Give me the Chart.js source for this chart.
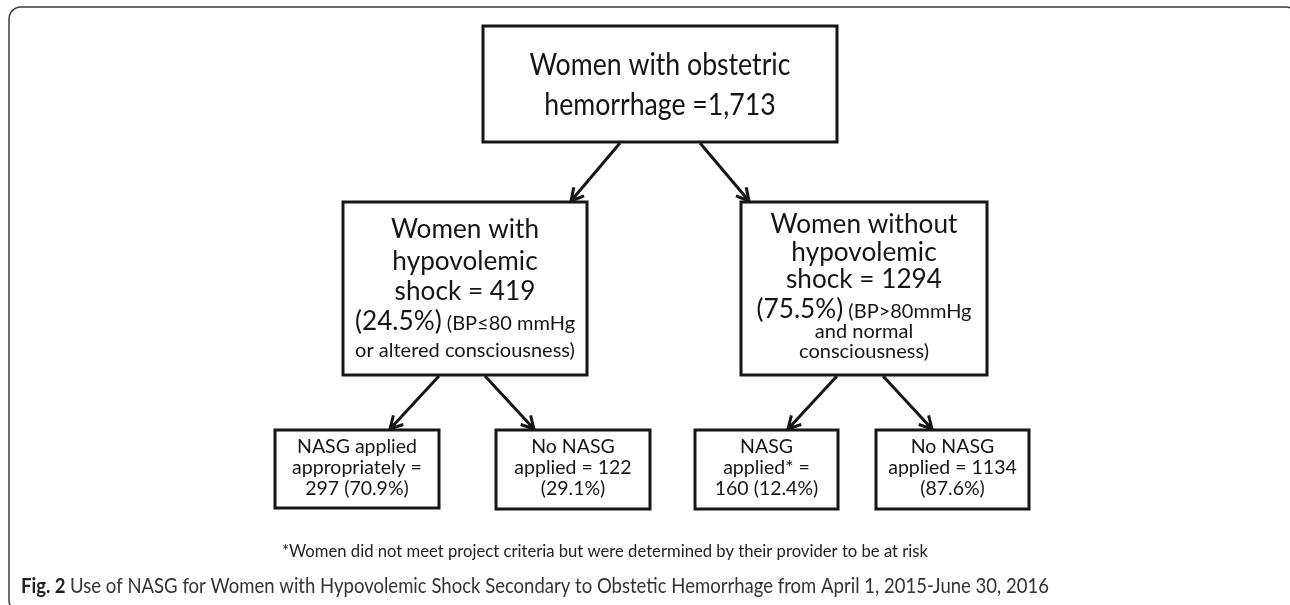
<!DOCTYPE html>
<html>
<head>
<meta charset="utf-8">
<script src="https://cdn.jsdelivr.net/npm/chart.js@4.4.1/dist/chart.umd.min.js"></script>
<style>
  html, body { margin: 0; padding: 0; background: #fff; }
  canvas { display: block; }
</style>
</head>
<body>
<canvas id="flow" width="1290" height="605"></canvas>
<script>
// flow data: counts and shares
const nodeCounts = [1713, 419, 1294, 297, 122, 160, 1134];
const nodePercents = [null, 24.5, 75.5, 70.9, 29.1, 12.4, 87.6];
const nodeParents = [null, 0, 0, 1, 1, 2, 2];
const footnote = '*Women did not meet project criteria but were determined by their provider to be at risk';
const captionLabel = 'Fig. 2';
const captionText = 'Use of NASG for Women with Hypovolemic Shock Secondary to Obstetic Hemorrhage from April 1, 2015-June 30, 2016';

const c = nodeCounts, p = nodePercents;

// text of every box, line by line, [text, size] segments
const nodeLines = [
    [[['Women with obstetric', 'xl']], [['hemorrhage =' + c[0].toLocaleString('en-US'), 'xl']]],
    [[['Women with', 'lg']], [['hypovolemic', 'lg']], [['shock = ' + c[1], 'lg']],
     [['(' + p[1] + '%)', 'lg'], [' (BP\u226480 mmHg', 'sm']], [['or altered consciousness)', 'sm']]],
    [[['Women without', 'lg']], [['hypovolemic', 'lg']], [['shock = ' + c[2], 'lg']],
     [['(' + p[2] + '%)', 'lg'], [' (BP>80mmHg', 'sm']], [['and normal', 'sm']], [['consciousness)', 'sm']]],
    [[['NASG applied', 'md']], [['appropriately =', 'md']], [[c[3] + ' (' + p[3] + '%)', 'md']]],
    [[['No NASG', 'md']], [['applied = ' + c[4], 'md']], [['(' + p[4] + '%)', 'md']]],
    [[['NASG', 'md']], [['applied* =', 'md']], [[c[5] + ' (' + p[5] + '%)', 'md']]],
    [[['No NASG', 'md']], [['applied = ' + c[6], 'md']], [['(' + p[6] + '%)', 'md']]]
];

// layout (scale units): box [left, right, top, bottom], text baselines, arrow start offsets
const boxLayout = [
    [483, 837, 26, 142],
    [343, 587, 202, 375],
    [741, 987, 202, 375],
    [275, 439, 430, 508],
    [496, 650, 430, 509],
    [695, 838, 430, 509],
    [876, 1029, 430, 509]
];
const lineBaselines = [
    [75, 115],
    [238, 270, 300, 330, 357],
    [233, 261, 288, 318, 338, 358],
    [453, 474, 495],
    [453, 474, 495],
    [453, 474, 495],
    [453, 474, 495]
];
const arrowOffsets = [null, -40, 40, -26, 20, -27, 19];

const fontSizes = { xl: 31, lg: 27, sm: 20, md: 19.5 };
const fontStretch = { xl: 0.86, lg: 0.97, sm: 1, md: 1 };
const FONT = 'Lato, "Open Sans", sans-serif';

function drawArrow(ctx, x0, y0, x1, y1) {
    const ang = Math.atan2(y1 - y0, x1 - x0);
    const head = 14;
    ctx.beginPath();
    ctx.moveTo(x0, y0);
    ctx.lineTo(x1, y1);
    ctx.moveTo(x1 - head * Math.cos(ang - 0.5), y1 - head * Math.sin(ang - 0.5));
    ctx.lineTo(x1, y1);
    ctx.lineTo(x1 - head * Math.cos(ang + 0.5), y1 - head * Math.sin(ang + 0.5));
    ctx.stroke();
}

const flowPlugin = {
    id: 'flow',
    afterDraw(chart) {
        const ctx = chart.ctx;
        const sx = chart.scales.x, sy = chart.scales.y;
        const X = v => sx.getPixelForValue(v);
        const Y = v => sy.getPixelForValue(v);

        ctx.save();

        // outer frame, clipped at right and bottom like the source page
        ctx.strokeStyle = '#3a3a3a';
        ctx.lineWidth = 1.5;
        ctx.beginPath();
        ctx.roundRect(X(9), Y(7), X(1298) - X(9), Y(612) - Y(7), 12);
        ctx.stroke();

        // boxes
        ctx.strokeStyle = '#161616';
        ctx.lineWidth = 3;
        boxLayout.forEach(b => {
            ctx.strokeRect(X(b[0]), Y(b[2]), X(b[1]) - X(b[0]), Y(b[3]) - Y(b[2]));
        });

        // arrows
        nodeParents.forEach((par, i) => {
            if (par === null) return;
            const pb = boxLayout[par], cb = boxLayout[i];
            const xs = (pb[0] + pb[1]) / 2 + arrowOffsets[i];
            const side = arrowOffsets[i] < 0 ? -1 : 1;
            drawArrow(ctx, X(xs), Y(pb[3] + 1), X(xs + side * 49), Y(cb[2] - 1));
        });

        // box text
        ctx.fillStyle = '#151515';
        ctx.textBaseline = 'alphabetic';
        ctx.textAlign = 'left';
        nodeLines.forEach((lines, i) => {
            const b = boxLayout[i];
            const cx = X((b[0] + b[1]) / 2);
            lines.forEach((segs, j) => {
                let total = 0;
                const widths = segs.map(s => {
                    ctx.font = fontSizes[s[1]] + 'px ' + FONT;
                    const w = ctx.measureText(s[0]).width * fontStretch[s[1]];
                    total += w;
                    return w;
                });
                let x = cx - total / 2;
                const y = Y(lineBaselines[i][j]);
                segs.forEach((s, k) => {
                    ctx.save();
                    ctx.font = fontSizes[s[1]] + 'px ' + FONT;
                    ctx.translate(x, y);
                    ctx.scale(fontStretch[s[1]], 1);
                    ctx.fillText(s[0], 0, 0);
                    ctx.restore();
                    x += widths[k];
                });
            });
        });

        // footnote (condensed)
        ctx.fillStyle = '#222';
        ctx.font = '18px ' + FONT;
        ctx.textAlign = 'center';
        ctx.fillText(footnote, X(605), Y(557), 646);

        // caption
        ctx.textAlign = 'left';
        ctx.font = 'bold 21px ' + FONT;
        const wb = ctx.measureText(captionLabel + ' ').width;
        ctx.font = '21px ' + FONT;
        const wr = ctx.measureText(captionText).width;
        const scale = (1049 - 21) / (wb + wr);
        ctx.translate(X(21), Y(593));
        ctx.scale(scale, 1);
        ctx.fillStyle = '#222';
        ctx.font = 'bold 21px ' + FONT;
        ctx.fillText(captionLabel, 0, 0);
        ctx.fillStyle = '#333';
        ctx.font = '21px ' + FONT;
        ctx.fillText(captionText, wb, 0);

        ctx.restore();
    }
};

new Chart(document.getElementById('flow'), {
    type: 'scatter',
    data: {
        datasets: [{
            data: boxLayout.map((b, i) => ({ x: (b[0] + b[1]) / 2, y: (b[2] + b[3]) / 2, n: nodeCounts[i] })),
            pointRadius: 0
        }]
    },
    options: {
        responsive: false,
        animation: false,
        layout: { padding: 0 },
        plugins: { legend: { display: false }, tooltip: { enabled: false } },
        scales: {
            x: { type: 'linear', min: 0, max: 1290, display: false },
            y: { type: 'linear', min: 0, max: 605, reverse: true, display: false }
        }
    },
    plugins: [flowPlugin]
});
</script>
</body>
</html>
